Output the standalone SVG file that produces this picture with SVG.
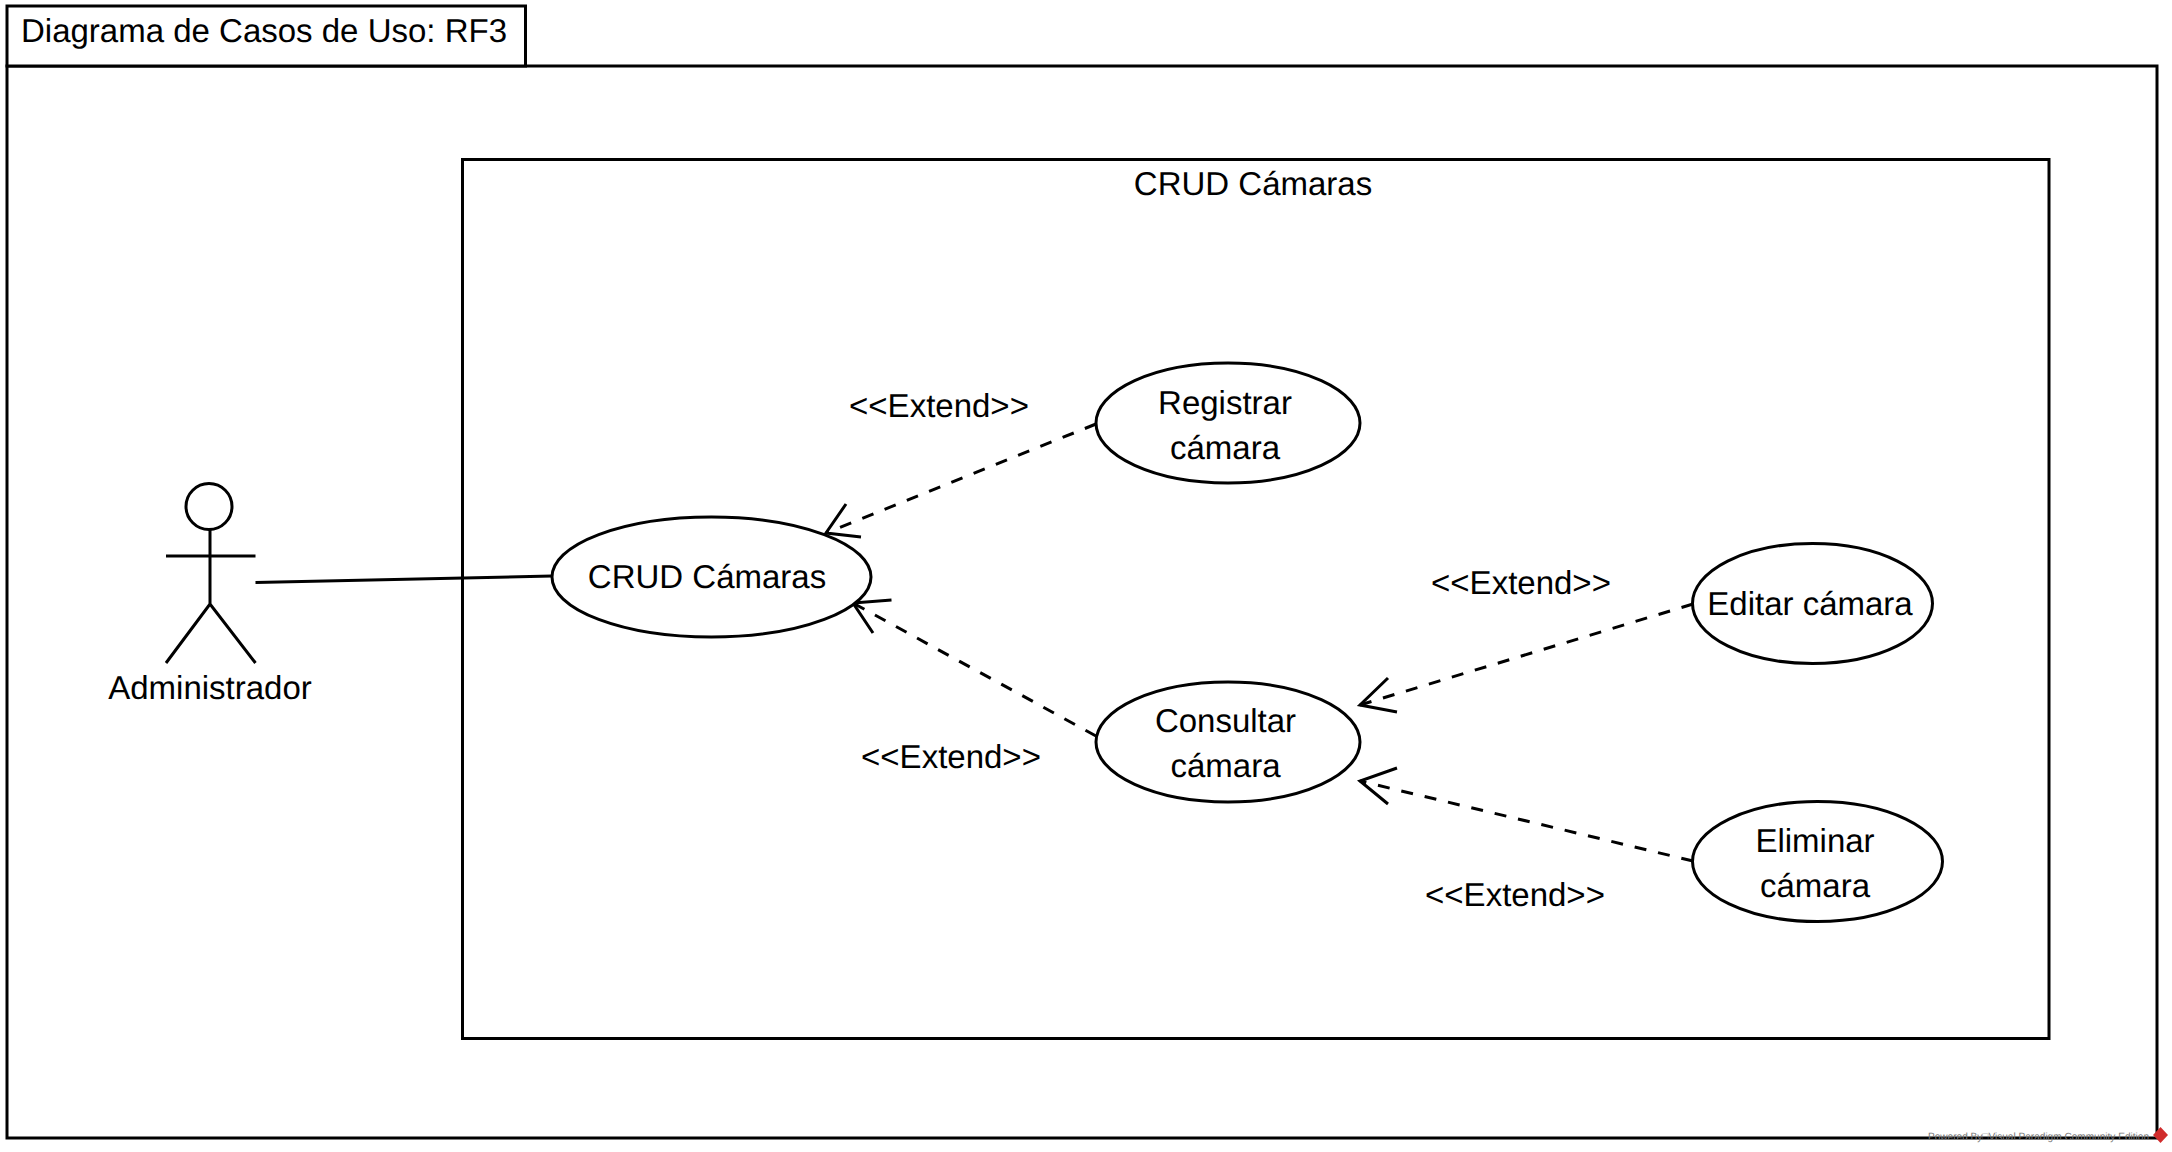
<svg xmlns="http://www.w3.org/2000/svg" width="2172" height="1152" viewBox="0 0 2172 1152">
<style>
text{font-family:"Liberation Sans",Arial,sans-serif;font-size:33px;fill:#000;text-anchor:middle;text-rendering:geometricPrecision}
.s{fill:#fff;stroke:#000;stroke-width:3}
.l{fill:none;stroke:#000;stroke-width:3}
.d{fill:none;stroke:#000;stroke-width:3;stroke-dasharray:12 12}
.wm{font-size:10.500px;fill:#777;text-anchor:start}
</style>
<rect width="2172" height="1152" fill="#fff"/>
<g id="frame">
<rect class="s" x="7" y="66" width="2150" height="1072"/>
<rect class="s" x="7" y="6" width="518.500" height="60"/>
<text x="264" y="42">Diagrama de Casos de Uso: RF3</text>
</g>
<g id="system">
<rect class="s" x="462.500" y="159.500" width="1586.500" height="879"/>
<text x="1253" y="195">CRUD Cámaras</text>
</g>
<g id="connectors">
<path class="l" d="M255.500 582.500L552 576"/>
<path class="d" d="M1096 424L826 533"/>
<path class="l" d="M846 504L826 533L861 537"/>
<path class="d" d="M1096 736L853 603"/>
<path class="l" d="M891.500 600L853 603L873 633"/>
<path class="d" d="M1693 604L1360 705"/>
<path class="l" d="M1388 678L1360 705L1397 712"/>
<path class="d" d="M1693 861L1360 781"/>
<path class="l" d="M1397 768L1360 781L1388 804"/>
</g>
<g id="actor">
<circle class="s" cx="209" cy="506.500" r="23"/>
<path class="l" d="M210 530V604M166 556H255.500M166 663L210 604L255.500 663"/>
<text x="210" y="699">Administrador</text>
</g>
<g id="uc-crud">
<ellipse class="s" cx="711.500" cy="577" rx="159.500" ry="60"/>
<text x="707" y="588">CRUD Cámaras</text>
</g>
<g id="uc-registrar">
<ellipse class="s" cx="1228" cy="423" rx="132" ry="60"/>
<text x="1225" y="414">Registrar</text>
<text x="1225" y="459">cámara</text>
</g>
<g id="uc-consultar">
<ellipse class="s" cx="1228" cy="742" rx="132" ry="60"/>
<text x="1225.500" y="732">Consultar</text>
<text x="1225.500" y="777">cámara</text>
</g>
<g id="uc-editar">
<ellipse class="s" cx="1812.500" cy="603.500" rx="120" ry="60"/>
<text x="1810" y="615">Editar cámara</text>
</g>
<g id="uc-eliminar">
<ellipse class="s" cx="1817.500" cy="861.500" rx="125" ry="60"/>
<text x="1815" y="852">Eliminar</text>
<text x="1815" y="897">cámara</text>
</g>
<g id="labels">
<text x="939" y="417">&lt;&lt;Extend&gt;&gt;</text>
<text x="951" y="768">&lt;&lt;Extend&gt;&gt;</text>
<text x="1521" y="594">&lt;&lt;Extend&gt;&gt;</text>
<text x="1515" y="906">&lt;&lt;Extend&gt;&gt;</text>
</g>
<g id="watermark">
<text class="wm" x="1928" y="1140" textLength="221" lengthAdjust="spacingAndGlyphs">Powered By□Visual Paradigm Community Edition</text>
<path d="M2160.500 1127L2168 1135L2160.500 1143L2153 1135Z" fill="#d02c2c"/>
</g>
</svg>
